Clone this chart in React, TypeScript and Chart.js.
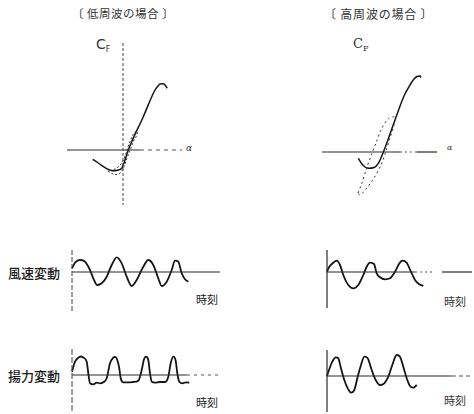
import React, { useEffect, useRef } from "react";
import { Chart, registerables } from "chart.js";

Chart.register(...registerables);

// ---------- Top-left: low frequency, C_F vs alpha ----------
const lowCfAlpha = [-3.03, -2.4, -1.8, -1.4, -1.0, -0.55, -0.13, 0.2, 0.53, 2.03, 3.2, 3.5, 3.7, 4.0, 4.2, 4.43];
const lowCfValue = [-0.93, -1.35, -1.77, -1.97, -2.07, -2.02, -1.83, -1.0, 0.0, 3.33, 6.0, 6.4, 6.6, 6.62, 6.5, 6.17];
const lowLoopAlpha = [-1.5, -1.0, -0.4, 0.0, 0.4, 0.8, 1.1, 1.4, 1.4, 1.1, 0.8, 0.5, 0.2, -0.2, -0.8, -1.5];
const lowLoopValue = [-2.1, -2.4, -2.4, -1.9, -0.8, 0.2, 1.0, 1.5, 1.9, 1.7, 1.1, 0.3, -0.6, -1.4, -1.9, -2.1];

// ---------- Top-right: high frequency, C_F vs alpha ----------
const highCfAlpha = [-2.47, -2.1, -1.8, -1.47, -0.9, -0.47, 0.03, 1.2, 2.1, 2.7, 3.1, 3.4, 3.7, 3.8];
const highCfValue = [-0.63, -1.2, -1.5, -1.63, -1.55, -1.13, -0.03, 3.2, 5.6, 6.7, 7.3, 7.55, 7.6, 7.45];
const highLoopAlpha = [-2.5, -2.1, -1.7, -1.2, -0.7, -0.2, 0.5, 1.2, 1.1, 0.7, 0.3, -0.2, -0.9, -1.7, -2.3, -2.5];
const highLoopValue = [-4.1, -3.1, -1.8, -0.4, 0.9, 2.2, 3.3, 3.5, 2.7, 1.4, 0.1, -1.3, -2.6, -3.7, -4.3, -4.1];

// ---------- Low frequency: wind speed fluctuation ----------
const lowWindTime = [0, 0.3, 0.8, 1.3, 1.8, 2.13, 2.53, 2.97, 3.47, 3.97, 4.47, 4.97, 5.47, 5.97, 6.47, 7.13, 7.63, 8.13, 8.63, 8.97, 9.47, 9.97, 10.3, 10.63, 10.97, 11.3, 11.63];
const lowWindValue = [0.37, 0.93, 1.2, 1.03, 0.2, -0.63, -1.3, -1.13, -0.47, 0.7, 1.47, 0.87, -0.47, -1.4, -0.8, 0.53, 1.2, 0.7, -0.63, -1.4, -0.97, 0.2, 1.13, 1.03, -0.13, -0.73, -0.97];

// ---------- Low frequency: lift fluctuation ----------
const lowLiftTime = [0, 0.3, 0.63, 0.88, 1.13, 1.47, 1.63, 1.8, 2.13, 2.47, 2.8, 3.13, 3.47, 3.8, 4.13, 4.3, 4.47, 4.7, 4.87, 5.13, 5.63, 6.13, 6.63, 6.97, 7.2, 7.4, 7.63, 7.8, 7.97, 8.3, 8.8, 9.3, 9.63, 9.87, 10.13, 10.37, 10.53, 10.73, 11.07, 11.4, 11.73];
const lowLiftValue = [0.33, 1.33, 1.72, 1.85, 1.74, 1.33, 0.17, -0.83, -0.93, -0.77, -0.83, -0.73, -0.33, 1.17, 1.75, 1.82, 1.65, 0.83, -0.33, -0.73, -0.73, -0.7, -0.57, 0.5, 1.57, 1.83, 1.5, 0.17, -0.67, -0.77, -0.7, -0.7, -0.17, 1.17, 1.83, 1.43, 0.17, -0.67, -0.83, -0.73, -0.77];

// ---------- High frequency: wind speed fluctuation ----------
const highWindTime = [0, 0.2, 0.63, 0.97, 1.3, 1.63, 2.13, 2.63, 3.13, 3.63, 3.97, 4.3, 4.7, 4.97, 5.3, 5.8, 6.3, 6.8, 7.2, 7.53, 7.97, 8.47, 8.8, 9.2, 9.63];
const highWindValue = [0.03, 0.47, 0.93, 1.13, 0.7, -0.3, -1.3, -1.63, -1.3, -0.3, 0.53, 0.93, 0.8, -0.13, -0.53, -0.73, -0.63, 0.03, 0.8, 1.13, 0.93, -0.13, -0.8, -1.2, -1.4];

// ---------- High frequency: lift fluctuation ----------
const highLiftTime = [0, 0.2, 0.53, 0.87, 1.13, 1.4, 1.73, 2.07, 2.4, 2.73, 3.07, 3.4, 3.73, 4.07, 4.47, 4.87, 5.3, 5.73, 6.13, 6.53, 6.97, 7.3, 7.63, 7.97, 8.3, 8.63, 8.97];
const highLiftValue = [0, 0.6, 1.43, 1.87, 1.77, 0.77, -0.4, -1.23, -1.67, -1.4, -0.07, 1.1, 1.93, 1.77, 0.6, -0.4, -0.9, -0.73, -0.07, 1.1, 2.1, 1.93, 0.93, -0.23, -1.0, -1.17, -0.9];

// ---------- Axis extents (data units) ----------
const lowCfAxisSolid = [-5.6, 1.7];
const lowCfAxisDashed = [1.7, 5.9];
const lowCfVertical = [10.7, -5.5];
const highCfAxisSolid = [-6.1, 1.7];
const highCfAxisDotted = [1.7, 3.4];
const highCfAxisTail = [3.4, 5.4];
const lowWindAxis = [0, 14.8];
const lowWindVertical = [2.2, -4.0];
const lowLiftAxisSolid = [0, 11.5];
const lowLiftAxisDashed = [11.5, 14.8];
const lowLiftVertical = [2.6, -3.7];
const highWindAxisSolid = [0, 8.8];
const highWindAxisDotted = [8.8, 10.6];
const highWindAxisTail = [11.5, 14.5];
const highWindVertical = [2.2, -3.6];
const highLiftAxisSolid = [0, 12.5];
const highLiftAxisDashed = [12.5, 14.5];
const highLiftVertical = [2.6, -3.6];

const INK = "#151515";
const AXIS = "#2a2a2a";

const pts = (xs: number[], ys: number[]) => xs.map((x, i) => ({ x, y: ys[i] }));
const hSeg = (r: number[]) => [{ x: r[0], y: 0 }, { x: r[1], y: 0 }];
const vSeg = (r: number[]) => [{ x: 0, y: r[0] }, { x: 0, y: r[1] }];

function line(data: any[], opts: any = {}) {
  return {
    data,
    showLine: true,
    pointRadius: 0,
    borderColor: opts.color || INK,
    borderWidth: opts.width ?? 1.5,
    borderDash: opts.dash || [],
    tension: opts.tension ?? 0,
    cubicInterpolationMode: opts.mono ? "monotone" : "default",
    fill: false,
    clip: false,
  };
}

type PanelProps = {
  left: number;
  top: number;
  width: number;
  height: number;
  x: number[];
  y: number[];
  datasets: any[];
};

function Panel({ left, top, width, height, x, y, datasets }: PanelProps) {
  const ref = useRef<HTMLCanvasElement>(null);
  useEffect(() => {
    if (!ref.current) return;
    const chart = new Chart(ref.current, {
      type: "scatter",
      data: { datasets },
      options: {
        animation: false,
        responsive: false,
        maintainAspectRatio: false,
        events: [],
        layout: { padding: 0 },
        plugins: { legend: { display: false }, tooltip: { enabled: false }, title: { display: false } },
        scales: {
          x: { type: "linear", display: false, min: x[0], max: x[1] },
          y: { type: "linear", display: false, min: y[0], max: y[1] },
        },
      },
    });
    return () => chart.destroy();
  }, []);
  return (
    <canvas
      ref={ref}
      width={width}
      height={height}
      style={{ position: "absolute", left, top, width, height }}
    />
  );
}

const label = (style: React.CSSProperties): React.CSSProperties => ({
  position: "absolute",
  whiteSpace: "nowrap",
  lineHeight: 1,
  color: "#1a1a1a",
  ...style,
});

export default function App() {
  useEffect(() => {
    document.body.style.margin = "0";
  }, []);
  const jp = '"Noto Sans CJK JP", "Noto Sans", sans-serif';
  return (
    <div style={{ position: "relative", width: 474, height: 414, background: "#fff", fontFamily: jp, overflow: "hidden" }}>
      <div style={label({ left: 72, top: 8, fontSize: 11.5, letterSpacing: 0.5, color: "#333" })}>〔 低周波の場合 〕</div>
      <div style={label({ left: 324, top: 8, fontSize: 12, letterSpacing: 0.8, color: "#333" })}>〔 高周波の場合 〕</div>

      <div style={label({ left: 96, top: 37, fontSize: 14, fontFamily: '"DejaVu Sans", sans-serif', color: "#333" })}>
        C<span style={{ fontSize: 8, position: "relative", top: 3 }}>F</span>
      </div>
      <div style={label({ left: 353, top: 37, fontSize: 13, fontFamily: '"DejaVu Serif", serif', color: "#333" })}>
        C<span style={{ fontSize: 8, position: "relative", top: 3 }}>F</span>
      </div>
      <div style={label({ left: 186, top: 144, fontSize: 9, fontStyle: "italic", fontFamily: '"DejaVu Serif", serif', color: "#333" })}>α</div>
      <div style={label({ left: 447, top: 144, fontSize: 8, fontStyle: "italic", fontFamily: '"DejaVu Serif", serif', color: "#333" })}>α</div>

      <div style={label({ left: 8, top: 266, fontSize: 13, fontWeight: 500 })}>風速変動</div>
      <div style={label({ left: 8, top: 369, fontSize: 13, fontWeight: 500 })}>揚力変動</div>
      <div style={label({ left: 196, top: 294, fontSize: 11 })}>時刻</div>
      <div style={label({ left: 196, top: 397, fontSize: 11 })}>時刻</div>
      <div style={label({ left: 444, top: 296, fontSize: 11, color: "#333" })}>時刻</div>
      <div style={label({ left: 444, top: 395, fontSize: 11, color: "#333" })}>時刻</div>

      <Panel
        left={60} top={40} width={140} height={172}
        x={[-6.3, 7.7]} y={[-6.2, 11]}
        datasets={[
          line(hSeg(lowCfAxisSolid), { width: 1.2, color: AXIS }),
          line(hSeg(lowCfAxisDashed), { width: 1, color: "#555", dash: [4, 4] }),
          line(vSeg(lowCfVertical), { width: 1, color: "#444", dash: [3, 2] }),
          line(pts(lowLoopAlpha, lowLoopValue), { width: 1, color: "#333", dash: [2, 2], tension: 0.35 }),
          line(pts(lowCfAlpha, lowCfValue), { width: 1.5, mono: true }),
        ]}
      />
      <Panel
        left={315} top={60} width={125} height={140}
        x={[-6.8, 5.7]} y={[-4.8, 9.2]}
        datasets={[
          line(hSeg(highCfAxisSolid), { width: 1.2, color: AXIS }),
          line(hSeg(highCfAxisDotted), { width: 1, color: "#555", dash: [2, 3] }),
          line(hSeg(highCfAxisTail), { width: 1.2, color: AXIS }),
          line(pts(highLoopAlpha, highLoopValue), { width: 1, color: "#333", dash: [2, 3], tension: 0.3 }),
          line(pts(highCfAlpha, highCfValue), { width: 1.5, mono: true }),
        ]}
      />
      <Panel
        left={65} top={245} width={160} height={70}
        x={[-0.7, 15.3]} y={[-4.3, 2.7]}
        datasets={[
          line(vSeg(lowWindVertical), { width: 1, color: "#444", dash: [5, 2] }),
          line(hSeg(lowWindAxis), { width: 1.2, color: AXIS }),
          line(pts(lowWindTime, lowWindValue), { width: 1.8, mono: true }),
        ]}
      />
      <Panel
        left={65} top={345} width={160} height={69}
        x={[-0.7, 15.3]} y={[-3.9, 3.0]}
        datasets={[
          line(vSeg(lowLiftVertical), { width: 1, color: "#444", dash: [6, 2] }),
          line(hSeg(lowLiftAxisSolid), { width: 1.2, color: AXIS }),
          line(hSeg(lowLiftAxisDashed), { width: 1, color: "#555", dash: [3, 4] }),
          line(pts(lowLiftTime, lowLiftValue), { width: 1.8, mono: true }),
        ]}
      />
      <Panel
        left={320} top={245} width={154} height={70}
        x={[-0.7, 14.7]} y={[-4.3, 2.7]}
        datasets={[
          line(vSeg(highWindVertical), { width: 1.2, color: AXIS }),
          line(hSeg(highWindAxisSolid), { width: 1.2, color: AXIS }),
          line(hSeg(highWindAxisDotted), { width: 1, color: "#555", dash: [2, 3] }),
          line(hSeg(highWindAxisTail), { width: 1.2, color: AXIS }),
          line(pts(highWindTime, highWindValue), { width: 1.8, mono: true }),
        ]}
      />
      <Panel
        left={320} top={345} width={154} height={69}
        x={[-0.7, 14.7]} y={[-3.8, 3.1]}
        datasets={[
          line(vSeg(highLiftVertical), { width: 1.2, color: AXIS }),
          line(hSeg(highLiftAxisSolid), { width: 1.2, color: AXIS }),
          line(hSeg(highLiftAxisDashed), { width: 1, color: "#555", dash: [4, 3] }),
          line(pts(highLiftTime, highLiftValue), { width: 1.8, mono: true }),
        ]}
      />
    </div>
  );
}
